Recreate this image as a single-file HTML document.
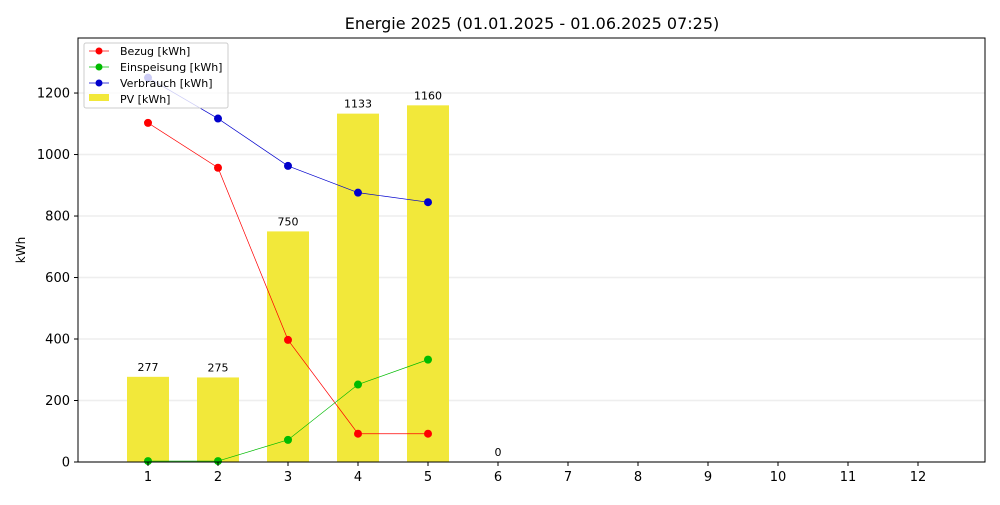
<!DOCTYPE html>
<html><head><meta charset="utf-8"><style>
body{margin:0;background:#fff;font-family:"Liberation Sans","DejaVu Sans",sans-serif}
svg text{font-family:"DejaVu Sans","Liberation Sans",sans-serif}
</style></head><body>
<svg id="chart" width="1000" height="500" xmlns="http://www.w3.org/2000/svg">
<rect x="0" y="0" width="1000" height="500" fill="#fff"/>
<text x="532" y="29" font-size="16" text-anchor="middle">Energie 2025 (01.01.2025 - 01.06.2025 07:25)</text>
<text transform="translate(25,250) rotate(-90)" font-size="12" text-anchor="middle">kWh</text>
<g id="grid"></g><g id="bars"></g><g id="lines"></g><g id="axes"></g>
<g>
<rect x="84" y="43" width="144" height="65" fill="#fff" fill-opacity="0.8" stroke="#ccc" rx="2"/>
<line x1="89" y1="51" x2="109" y2="51" stroke="red" stroke-width="0.7"/><circle cx="99" cy="51" r="3.5" fill="red"/>
<text x="120" y="55" font-size="11">Bezug [kWh]</text>
<line x1="89" y1="67" x2="109" y2="67" stroke="#00bb00" stroke-width="0.7"/><circle cx="99" cy="67" r="3.5" fill="#00bb00"/>
<text x="120" y="71" font-size="11">Einspeisung [kWh]</text>
<line x1="89" y1="83" x2="109" y2="83" stroke="#0000cc" stroke-width="0.7"/><circle cx="99" cy="83" r="3.5" fill="#0000cc"/>
<text x="120" y="87" font-size="11">Verbrauch [kWh]</text>
<rect x="89" y="94" width="20" height="7" fill="#f2e83a"/>
<text x="120" y="103" font-size="11">PV [kWh]</text>
</g>
</svg>
<script>
const months=[1,2,3,4,5,6,7,8,9,10,11,12];
const pv=[277,275,750,1133,1160,0];
const bezug=[1103,957,397,92,92];
const einspeisung=[3,3,72,252,333];
const verbrauch=[1250,1117,963,876,845];
const yTicks=[0,200,400,600,800,1000,1200];
const L=78,R=985,T=38,B=462,XMAX=12.957,YMAX=1379;
const xs=v=>L+v/XMAX*(R-L), ys=v=>B-v/YMAX*(B-T);
const NS="http://www.w3.org/2000/svg";
function mk(p,tag,at,txt){const e=document.createElementNS(NS,tag);for(const k in at)e.setAttribute(k,at[k]);if(txt!=null)e.textContent=txt;p.appendChild(e);return e;}
const grid=document.getElementById('grid'),bars=document.getElementById('bars'),lines=document.getElementById('lines'),axes=document.getElementById('axes');
yTicks.forEach(t=>{const g=mk(grid,'line',{x1:L,x2:R,y1:ys(t),y2:ys(t),stroke:'#eee','stroke-width':1.5});


mk(axes,'line',{x1:L-4,x2:L,y1:ys(t),y2:ys(t),stroke:'#000'});
const lb=mk(axes,'text',{x:L-8,y:ys(t)+4.5,'font-size':13,'text-anchor':'end'},t);

});
months.forEach(m=>{mk(axes,'line',{x1:xs(m),x2:xs(m),y1:B,y2:B+4,stroke:'#000'});
const lb=mk(axes,'text',{x:xs(m),y:B+19,'font-size':13,'text-anchor':'middle'},m);

});
pv.forEach((v,i)=>{const x=xs(months[i]);const b=mk(bars,'rect',{x:x-0.3*70,y:ys(v),width:42,height:B-ys(v),fill:'#f2e83a'});


const t=mk(bars,'text',{x:x,y:ys(v)-6,'font-size':11,'text-anchor':'middle'},v);

});
[[bezug,'red','bezug'],[einspeisung,'#00bb00','einspeisung'],[verbrauch,'#0000cc','verbrauch']].forEach(([d,c,n])=>{
const pts=d.map((v,i)=>xs(months[i])+','+ys(v)).join(' ');
const pl=mk(lines,'polyline',{points:pts,fill:'none',stroke:c,'stroke-width':0.7});


d.forEach((v,i)=>{const p=mk(lines,'circle',{cx:xs(months[i]),cy:ys(v),r:4,fill:c});

});});
mk(axes,'rect',{x:L,y:T,width:R-L,height:B-T,fill:'none',stroke:'#000','stroke-width':1});
</script>
</body></html>
